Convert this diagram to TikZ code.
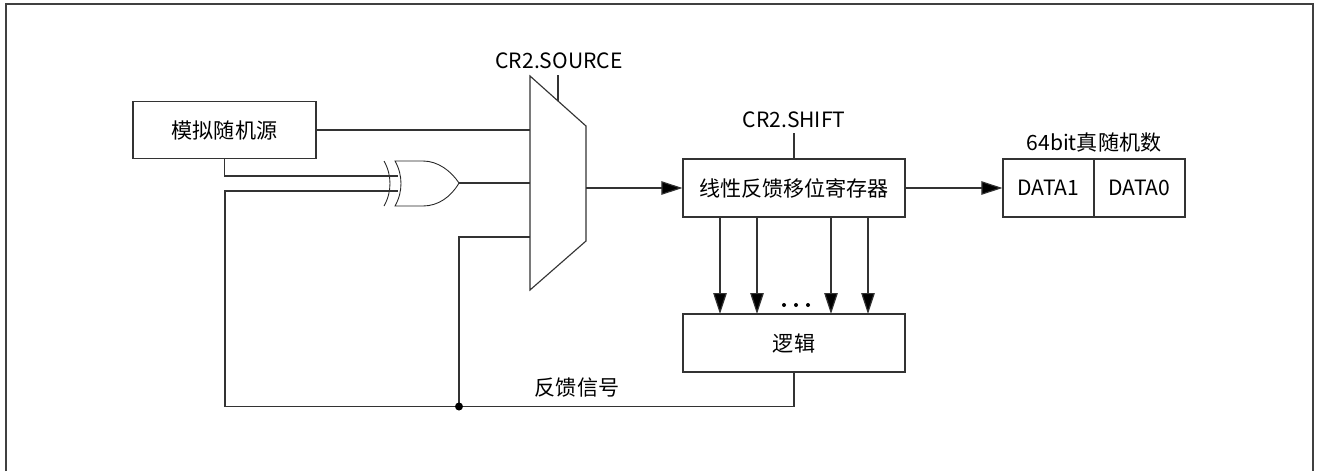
\documentclass[tikz,border=0pt]{standalone}
\usepackage{fontspec}
\setmainfont{Noto Sans CJK SC}
\usetikzlibrary{arrows.meta}
\tikzset{
  blockbox/.style={draw=black!80,line width=0.7pt,fill=white,inner sep=0pt,font=\fontsize{12}{14}\selectfont},
  lbl/.style={inner sep=0pt,font=\fontsize{12}{14}\selectfont},
  wire/.style={draw=black!80,line width=0.65pt},
  sig/.style={wire,-{Triangle[length=0.42cm,width=0.27cm,fill=black]}}
}
\begin{document}
\begin{tikzpicture}[x=0.02cm,y=-0.02cm]
\useasboundingbox (0,0) rectangle (1320,471);
\draw[black!75,line width=1pt] (6,471)--(6,4)--(1313,4)--(1313,471);
\node[blockbox,minimum width=3.66cm,minimum height=1.14cm] (srcbox) at (224.5,130) {模拟随机源};
\node[blockbox,minimum width=4.44cm,minimum height=1.16cm] (lfsr) at (794,188) {线性反馈移位寄存器};
\node[blockbox,minimum width=4.44cm,minimum height=1.16cm] (logic) at (794,343) {逻辑};
\node[blockbox,minimum width=1.82cm,minimum height=1.16cm] (dataa) at (1048.5,188) {DATA1};
\node[blockbox,minimum width=1.82cm,minimum height=1.16cm] (datab) at (1139.5,188) {DATA0};
\node[lbl] (srclbl) at (559,61) {CR2.SOURCE};
\node[lbl] (shiftlbl) at (794,120) {CR2.SHIFT};
\node[lbl] (datalbl) at (1094,142) {64bit真随机数};
\node[lbl] (fblbl) at (577,388) {反馈信号};
\coordinate (muxa) at (530,130);
\coordinate (muxb) at (530,183);
\coordinate (muxc) at (530,237);
\coordinate (muxout) at (586,188);
\coordinate (muxctl) at (558,101);
\coordinate (srcctl) at (558,75);
\coordinate (shifttop) at (794,133);
\coordinate (xorina) at (398,176);
\coordinate (xorinb) at (398,191);
\coordinate (xorout) at (459,183);
\coordinate (fbtee) at (459,406.5);
\coordinate (fbleft) at (225,406.5);
\draw[wire] (530,76)--(586,126)--(586,241)--(530,290)--cycle;
\draw[black!85,line width=0.5pt] (384,161) .. controls (392,175) and (392,192) .. (384,206);
\draw[black!85,line width=0.5pt] (395,161) .. controls (403,175) and (403,192) .. (395,206) -- (423,206) .. controls (438,206) and (451,197) .. (xorout) .. controls (451,171) and (438,161) .. (423,161) -- cycle;
\draw[wire] (srcbox.east) -- (muxa);
\draw[wire] (srcbox.south) |- (xorina);
\draw[wire] (fbleft) |- (xorinb);
\draw[wire] (xorout) -- (muxb);
\draw[wire] (fbtee) |- (muxc);
\draw[wire] (logic.south) |- (fbleft);
\draw[wire] (srcctl) -- (muxctl);
\draw[wire] (shifttop) -- (lfsr.north);
\draw[sig] (muxout) -- (lfsr.west);
\draw[sig] (lfsr.east) -- (dataa.west);
\foreach \xx in {720,757,831,868}
  \draw[sig] (\xx,217) -- (\xx,314);
\foreach \xx in {784,796,808}
  \fill (\xx,305) circle (2);
\fill (fbtee) circle (4);
\end{tikzpicture}
\end{document}
